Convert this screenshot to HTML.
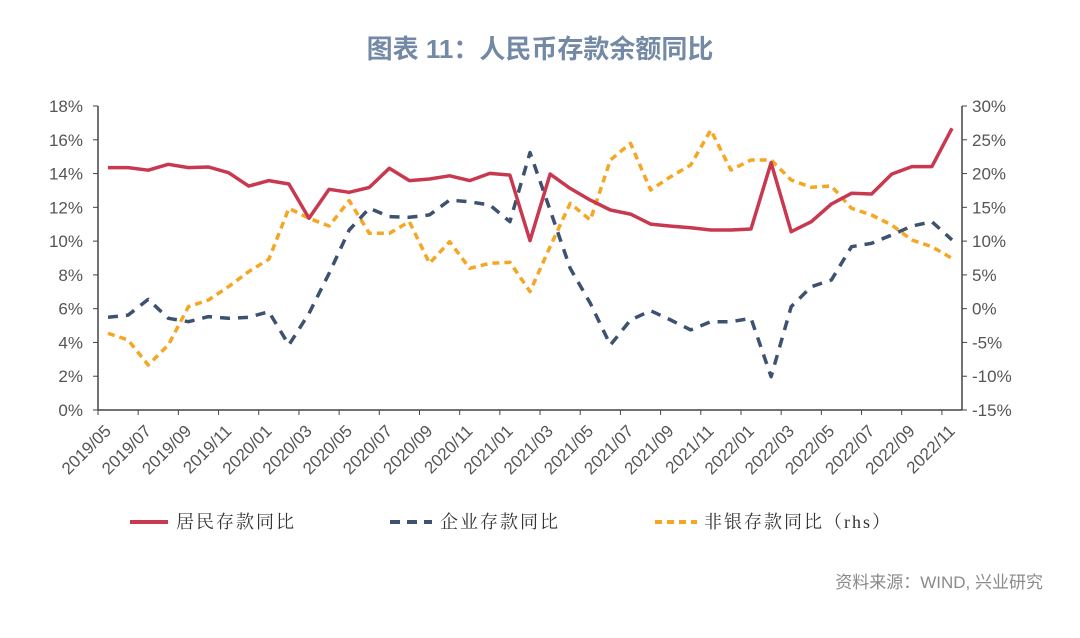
<!DOCTYPE html>
<html><head><meta charset="utf-8"><style>
body{margin:0;background:#fff;width:1080px;height:633px;overflow:hidden;font-family:"Liberation Sans","Noto Sans CJK SC",sans-serif;}
</style></head><body>
<svg width="1080" height="633" xmlns="http://www.w3.org/2000/svg">
<text x="540" y="58" text-anchor="middle" font-size="26" font-weight="bold" fill="#7389a5" font-family="Liberation Sans, Noto Sans CJK SC, sans-serif">图表 11：人民币存款余额同比</text>
<g id="axes"></g>
<g id="series"></g>
<g font-family="Liberation Serif, Noto Serif CJK SC, serif" font-size="18" fill="#333">
<line x1="130" y1="522" x2="168" y2="522" stroke="#c8394f" stroke-width="4"/>
<text x="176" y="528" letter-spacing="2">居民存款同比</text>
<line x1="390" y1="522" x2="432" y2="522" stroke="#3d5170" stroke-width="4" stroke-dasharray="10,7"/>
<text x="440" y="528" letter-spacing="2">企业存款同比</text>
<line x1="655" y1="522" x2="697" y2="522" stroke="#f5a623" stroke-width="4" stroke-dasharray="7,5"/>
<text x="704" y="528" letter-spacing="2">非银存款同比（rhs）</text>
</g>
<text x="1043" y="588" text-anchor="end" font-size="17" fill="#8a8a8a">资料来源：WIND, 兴业研究</text>
</svg>
<script>
const categories=["2019/05","2019/06","2019/07","2019/08","2019/09","2019/10","2019/11","2019/12","2020/01","2020/02","2020/03","2020/04","2020/05","2020/06","2020/07","2020/08","2020/09","2020/10","2020/11","2020/12","2021/01","2021/02","2021/03","2021/04","2021/05","2021/06","2021/07","2021/08","2021/09","2021/10","2021/11","2021/12","2022/01","2022/02","2022/03","2022/04","2022/05","2022/06","2022/07","2022/08","2022/09","2022/10","2022/11"];
const household=[14.35,14.35,14.2,14.55,14.35,14.39,14.05,13.26,13.58,13.38,11.35,13.07,12.89,13.18,14.31,13.58,13.68,13.87,13.58,14.01,13.91,10.03,13.97,13.12,12.43,11.84,11.6,11.01,10.89,10.79,10.66,10.66,10.72,14.64,10.56,11.15,12.2,12.83,12.79,13.97,14.41,14.41,16.68];
const corporate=[5.49,5.62,6.55,5.43,5.23,5.53,5.43,5.49,5.82,3.85,5.72,8.09,10.66,11.94,11.45,11.41,11.55,12.43,12.33,12.14,11.15,15.24,11.84,8.39,6.32,3.85,5.33,5.88,5.33,4.74,5.23,5.23,5.43,1.97,6.12,7.3,7.7,9.67,9.87,10.36,10.89,11.15,10.07];
const nonbank=[-3.65,-4.64,-8.34,-5.38,0.29,1.28,3.26,5.48,7.31,14.86,13.38,12.24,15.99,11.16,11.16,12.88,6.72,9.92,5.98,6.72,6.87,2.52,9.18,15.59,13.13,22.0,24.48,17.57,19.54,21.27,26.45,20.53,22.0,22.0,19.05,17.97,18.16,14.86,13.87,12.39,10.17,9.18,7.46];
const leftTicks=[0,2,4,6,8,10,12,14,16,18];
const rightTicks=[-15,-10,-5,0,5,10,15,20,25,30];
const NS="http://www.w3.org/2000/svg";
const X0=98,X1=962,Y0=410,Y1=106;
const band=(X1-X0)/categories.length;
const xs=i=>X0+band*(i+0.5);
const yl=v=>Y0-(v-0)/(18-0)*(Y0-Y1);
const yr=v=>Y0-(v+15)/(45)*(Y0-Y1);
function mk(tag,attrs,parent){const e=document.createElementNS(NS,tag);for(const k in attrs)e.setAttribute(k,attrs[k]);parent.appendChild(e);return e;}
const ax=document.getElementById('axes');
let e;
e=mk('line',{x1:X0,y1:Y1,x2:X0,y2:Y0,stroke:'#444','stroke-width':1.5},ax);


e=mk('line',{x1:X1,y1:Y1,x2:X1,y2:Y0,stroke:'#444','stroke-width':1.5},ax);


e=mk('line',{x1:X0,y1:Y0,x2:X1,y2:Y0,stroke:'#444','stroke-width':1.5},ax);


leftTicks.forEach(v=>{const y=yl(v);
mk('line',{x1:X0-5,y1:y,x2:X0,y2:y,stroke:'#444'},ax);
const t=mk('text',{x:X0-15,y:y+6,'text-anchor':'end','font-size':17,fill:'#555'},ax);t.textContent=v+'%';

});
rightTicks.forEach(v=>{const y=yr(v);
mk('line',{x1:X1,y1:y,x2:X1+5,y2:y,stroke:'#444'},ax);
const t=mk('text',{x:X1+10,y:y+6,'text-anchor':'start','font-size':17,fill:'#555'},ax);t.textContent=v+'%';

});
categories.forEach((c,i)=>{if(i%2)return;const x=X0+band*i;
mk('line',{x1:x,y1:Y0,x2:x,y2:Y0+5,stroke:'#444'},ax);
const cx=xs(i)+4,cy=Y0+22;
const t=mk('text',{x:cx,y:cy,'text-anchor':'end','font-size':17,fill:'#555',transform:`rotate(-45 ${cx} ${cy})`},ax);t.textContent=c;

});
const sg=document.getElementById('series');
function line(vals,yf,color,dash,w,name){
const d=vals.map((v,i)=>(i?'L':'M')+xs(i).toFixed(1)+','+yf(v).toFixed(1)).join(' ');
const p=mk('path',{d:d,fill:'none',stroke:color,'stroke-width':w,'stroke-linejoin':'round'},sg);
if(dash)p.setAttribute('stroke-dasharray',dash);

}
line(nonbank,yr,'#f5a623','7,5',3.5,'nonbank-deposit-line');
line(corporate,yl,'#3d5170','10,8',3.5,'corporate-deposit-line');
line(household,yl,'#c8394f',null,3.5,'household-deposit-line');
</script>
</body></html>
